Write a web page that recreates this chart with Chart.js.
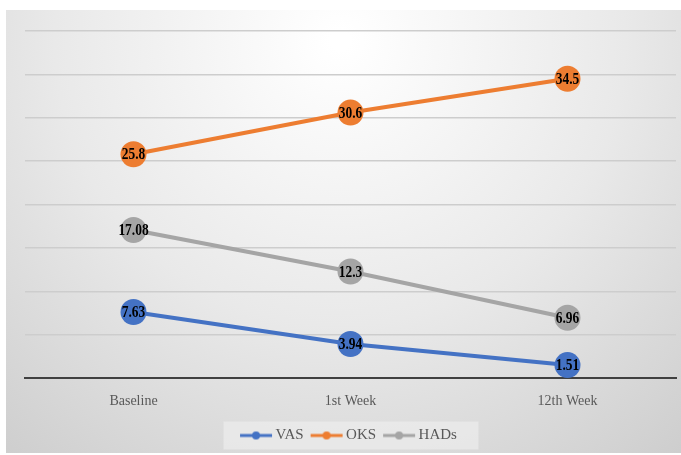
<!DOCTYPE html>
<html>
<head>
<meta charset="utf-8">
<script src="https://cdn.jsdelivr.net/npm/chart.js@4/dist/chart.umd.min.js"></script>
<style>
  html, body { margin: 0; padding: 0; background: #ffffff; }
  #wrap { width: 681px; height: 455px; position: relative; }
</style>
</head>
<body>
<div id="wrap"><canvas id="c" width="681" height="455"></canvas></div>
<script>
// Time points and scores
const categories = ['Baseline', '1st Week', '12th Week'];
const vasScores = [7.63, 3.94, 1.51];
const oksScores = [25.8, 30.6, 34.5];
const hadsScores = [17.08, 12.3, 6.96];
const seriesNames = ['VAS', 'OKS', 'HADs'];

const colors = ['#4472C4', '#ED7D31', '#A5A5A5'];
const serif = '"Liberation Serif", "Times New Roman", serif';

// Small "line with dot" swatch for the legend
function swatch(color) {
  const cv = document.createElement('canvas');
  cv.width = 34; cv.height = 10;
  const g = cv.getContext('2d');
  g.strokeStyle = color; g.lineWidth = 3;
  g.beginPath(); g.moveTo(1, 5); g.lineTo(33, 5); g.stroke();
  g.fillStyle = color;
  g.beginPath(); g.arc(17, 5, 4, 0, Math.PI * 2); g.fill();
  return cv;
}

// Soft radial background panel and legend box
const panelPlugin = {
  id: 'panel',
  beforeDraw(chart) {
    const ctx = chart.ctx;
    ctx.save();
    ctx.fillStyle = '#ffffff';
    ctx.fillRect(0, 0, chart.width, chart.height);
    const grad = ctx.createRadialGradient(340, 40, 10, 340, 40, 560);
    grad.addColorStop(0, '#ffffff');
    grad.addColorStop(0.5, '#e9e9e9');
    grad.addColorStop(1, '#cbcbcb');
    ctx.fillStyle = grad;
    ctx.fillRect(6, 10, 675, 443);
    const lg = chart.legend;
    if (lg && lg.legendHitBoxes && lg.legendHitBoxes.length) {
      const boxes = lg.legendHitBoxes;
      const cy = boxes[0].top + boxes[0].height / 2;
      const cx = (chart.chartArea.left + chart.chartArea.right) / 2;
      ctx.fillStyle = 'rgba(240,240,240,0.6)';
      ctx.fillRect(cx - 127, cy - 14, 255, 28);
    }
    ctx.restore();
  }
};

// Value labels centred on each marker
const valueLabels = {
  id: 'valueLabels',
  afterDatasetsDraw(chart) {
    const ctx = chart.ctx;
    ctx.save();
    ctx.fillStyle = '#000000';
    ctx.font = 'bold 16px ' + serif;
    ctx.textAlign = 'center';
    ctx.textBaseline = 'middle';
    chart.data.datasets.forEach((ds, i) => {
      chart.getDatasetMeta(i).data.forEach((pt, j) => {
        ctx.save();
        ctx.translate(pt.x, pt.y + 1);
        ctx.scale(0.84, 1);
        ctx.fillText(String(ds.data[j]), 0, 0);
        ctx.restore();
      });
    });
    ctx.restore();
  }
};

const seriesData = [vasScores, oksScores, hadsScores];

new Chart(document.getElementById('c'), {
  type: 'line',
  data: {
    labels: categories,
    datasets: seriesNames.map((name, i) => ({
      label: name,
      data: seriesData[i],
      borderColor: colors[i],
      backgroundColor: colors[i],
      borderWidth: 4,
      pointRadius: 13,
      pointHoverRadius: 13,
      pointBorderWidth: 0,
      pointStyle: 'circle',
      tension: 0,
      clip: false
    }))
  },
  options: {
    responsive: false,
    animation: false,
    devicePixelRatio: 1,
    layout: { autoPadding: false, padding: { top: 31, left: 25, right: 5, bottom: 2 } },
    scales: {
      x: {
        offset: true,
        grid: { display: false },
        border: { display: true, color: '#404040', width: 2 },
        ticks: { color: '#595959', font: { family: serif, size: 14 }, padding: 7 }
      },
      y: {
        min: 0, max: 40,
        ticks: { display: false, stepSize: 5 },
        grid: { color: '#cdcdcd', lineWidth: 1.5, drawTicks: false },
        border: { display: false }
      }
    },
    plugins: {
      legend: {
        position: 'bottom',
        labels: {
          usePointStyle: true,
          pointStyleWidth: 24,
          color: '#595959',
          font: { family: serif, size: 15 },
          padding: 11,
          generateLabels(chart) {
            return chart.data.datasets.map((ds, i) => ({
              text: ds.label,
              pointStyle: swatch(colors[i]),
              fillStyle: colors[i],
              strokeStyle: colors[i],
              fontColor: '#595959',
              lineWidth: 0,
              hidden: false,
              datasetIndex: i
            }));
          }
        }
      },
      tooltip: { enabled: false }
    }
  },
  plugins: [panelPlugin, valueLabels]
});
</script>
</body>
</html>
